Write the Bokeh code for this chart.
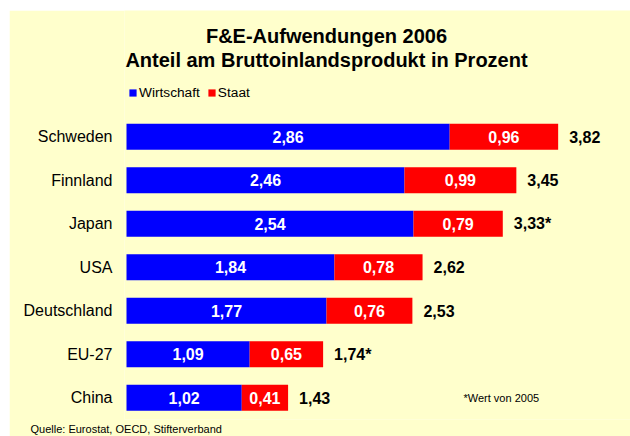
from bokeh.plotting import figure
from bokeh.models import Range1d, Title, Legend, LegendItem, ColumnDataSource, FixedTicker
from bokeh.core.properties import value
from bokeh.embed import file_html
from bokeh.resources import INLINE

# ---- data ----
countries = ["Schweden", "Finnland", "Japan", "USA", "Deutschland", "EU-27", "China"]
wirtschaft = [2.86, 2.46, 2.54, 1.84, 1.77, 1.09, 1.02]
staat = [0.96, 0.99, 0.79, 0.78, 0.76, 0.65, 0.41]
total_notes = ["", "", "*", "", "", "*", ""]
series_names = ["Wirtschaft", "Staat"]

title_1 = "F&E-Aufwendungen 2006"
title_2 = "Anteil am Bruttoinlandsprodukt in Prozent"
footnote = "*Wert von 2005"
source_note = "Quelle: Eurostat, OECD, Stifterverband"

# ---- style / layout ----
BLUE = "#0000FF"
RED = "#FF0000"
BG = "#FFFFCC"
FONT = "Liberation Sans"

W, H = 621, 426           # figure size (placed with a margin of 10 top / 9 left)
ML, MB = 115, 17          # left axis area, bottom area
FW, FH = W - ML, H - MB   # frame
PX_PER_UNIT = 113.0       # x scale
ROW_PX = 43.5             # row pitch
X0 = -2 / PX_PER_UNIT     # frame left a little before the bars' zero
Y_BOTTOM = 6.5            # data value at frame bottom (rows are 0..6, top to bottom)
Y_TOP = Y_BOTTOM - FH / ROW_PX


def de(v):
    return f"{v:.2f}".replace(".", ",")


def sx(px):   # horizontal pixel offset from the bars' zero -> data
    return px / PX_PER_UNIT


def sy(px):   # pixel offset from the figure top -> data
    return Y_TOP + px / ROW_PX


rows = list(range(len(countries)))
total = [round(w + s, 2) for w, s in zip(wirtschaft, staat)]

src = ColumnDataSource(dict(
    row=rows,
    w=wirtschaft,
    s=staat,
    t=total,
    w_mid=[w / 2 for w in wirtschaft],
    s_mid=[w + s / 2 for w, s in zip(wirtschaft, staat)],
    w_lbl=[de(v) for v in wirtschaft],
    s_lbl=[de(v) for v in staat],
    t_lbl=[de(t) + n for t, n in zip(total, total_notes)],
))

p = figure(
    x_range=Range1d(X0, X0 + FW / PX_PER_UNIT),
    y_range=Range1d(Y_BOTTOM, Y_TOP),
    width=W, height=H, margin=(10, 0, 0, 9),
    min_border_left=ML, min_border_right=0, min_border_top=0, min_border_bottom=MB,
    output_backend="svg", toolbar_location=None, title=None,
    background_fill_color=BG, border_fill_color=BG, outline_line_color=None,
)

r1 = p.hbar(y="row", left=0, right="w", height=0.6, source=src,
            fill_color=BLUE, line_color=None)
r2 = p.hbar(y="row", left="w", right="t", height=0.6, source=src,
            fill_color=RED, line_color=None)

common = dict(y="row", source=src, text_baseline="middle",
              text_font=value(FONT), text_font_style="bold", text_font_size="16px")
p.text(x="w_mid", text="w_lbl", text_align="center", text_color="white", **common)
p.text(x="s_mid", text="s_lbl", text_align="center", text_color="white", **common)
p.text(x="t", text="t_lbl", text_align="left", text_color="black", x_offset=11, **common)

# footnote next to the China row
p.text(x=[sx(337)], y=[rows[-1]], text=[footnote], text_align="left", text_baseline="middle",
       text_font=value(FONT), text_font_size="11px", text_color="black")

# two-line heading
p.text(x=[sx(200), sx(200)], y=[sy(25), sy(49)], text=[title_1, title_2],
       text_align="center", text_baseline="middle",
       text_font=value(FONT), text_font_size="20px", text_font_style="bold",
       text_color="black")

# axes / grid
p.xaxis.visible = False
p.xgrid.visible = False
p.ygrid.visible = False
ya = p.yaxis[0]
ya.ticker = FixedTicker(ticks=rows)
ya.major_label_overrides = {r: c for r, c in zip(rows, countries)}
ya.axis_line_color = None
ya.major_tick_line_color = None
ya.minor_tick_line_color = None
ya.major_tick_out = 0
ya.major_tick_in = 0
ya.major_label_standoff = 12
ya.major_label_text_font = FONT
ya.major_label_text_font_size = "16px"
ya.major_label_text_color = "black"

legend = Legend(
    items=[LegendItem(label=value(series_names[0]), renderers=[r1]),
           LegendItem(label=value(series_names[1]), renderers=[r2])],
    orientation="horizontal", location=(2, 317),
    glyph_width=9, glyph_height=9, label_standoff=2, spacing=7,
    padding=2, margin=0, label_height=14,
    background_fill_alpha=0, border_line_alpha=0,
    label_text_font=FONT, label_text_font_size="13.7px", label_text_color="black",
)
p.add_layout(legend, "center")

src_title = Title(text=source_note, align="left", offset=-94, standoff=2,
                  text_font=FONT, text_font_size="11px", text_font_style="normal",
                  text_color="black")
p.add_layout(src_title, "below")

open("out.html", "w").write(file_html(p, INLINE))
